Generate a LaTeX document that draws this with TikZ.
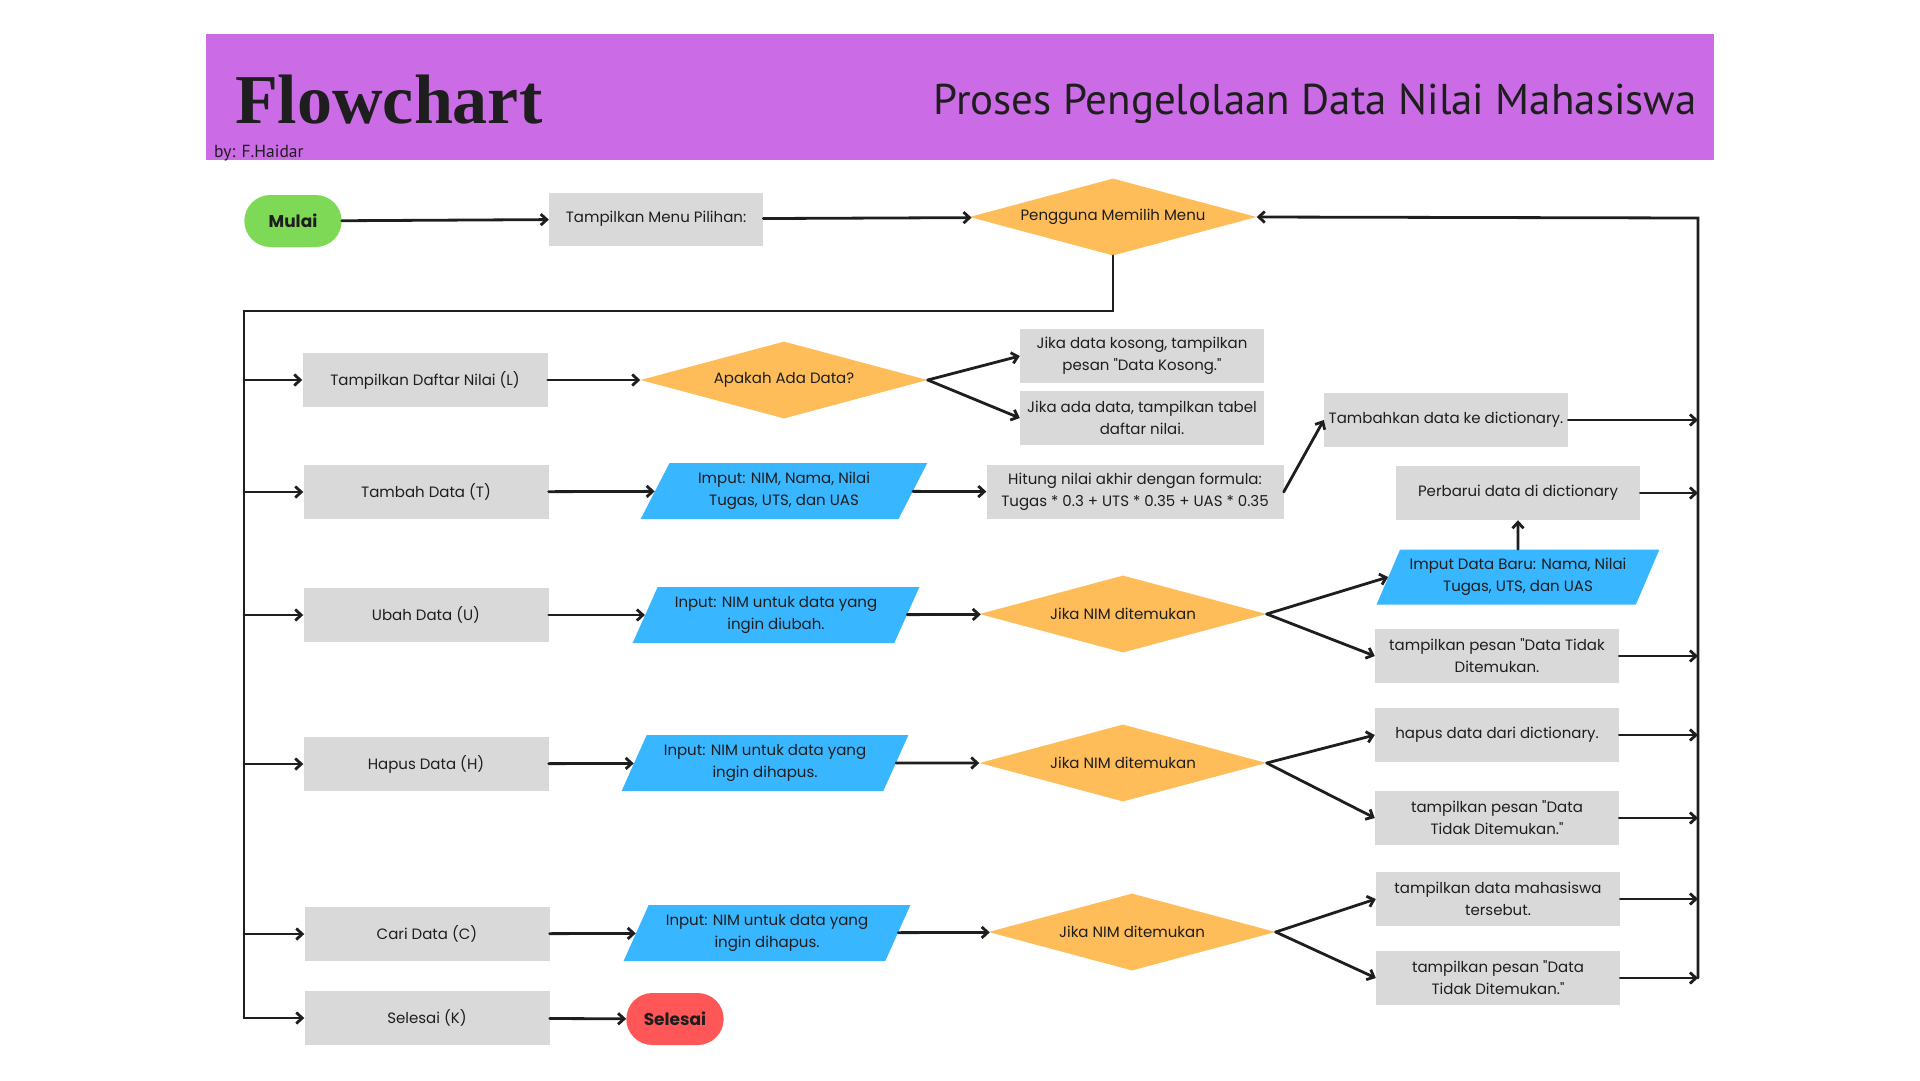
\documentclass[tikz,border=0pt]{standalone}
\usepackage{fontspec}
\newfontfamily\bodyfont{Poppins}
\newfontfamily\titlefont{Liberation Serif}
\newfontfamily\headfont{PT Sans}
\usetikzlibrary{shapes.geometric,shapes.misc,arrows.meta}
\definecolor{headpurple}{HTML}{CB6CE6}
\definecolor{boxgray}{HTML}{D9D9D9}
\definecolor{askorange}{HTML}{FFBD59}
\definecolor{inblue}{HTML}{38B6FF}
\definecolor{startgreen}{HTML}{7ED957}
\definecolor{endred}{HTML}{FF5757}
\definecolor{inkblack}{HTML}{1E1E1E}
\begin{document}
\begin{tikzpicture}[x=1pt,y=-1pt,
  every node/.style={font=\bodyfont\fontsize{15}{22}\selectfont, text=inkblack, align=center},
  proc/.style={rectangle, fill=boxgray, minimum width=245pt, minimum height=54pt, inner sep=2pt},
  decision/.style={diamond, fill=askorange, aspect=3.7, minimum width=287pt, minimum height=77pt, inner sep=0pt},
  io/.style={trapezium, trapezium left angle=60, trapezium right angle=120, trapezium stretches=true,
    fill=inblue, minimum width=287pt, minimum height=56pt, inner sep=0pt},
  term/.style={rounded rectangle, minimum width=104pt, minimum height=52pt, font=\bodyfont\fontsize{17}{20}\selectfont\bfseries},
  arr/.style={-{Straight Barb[length=6pt,width=11pt]}, line width=2.8pt, line cap=round, inkblack}]
\useasboundingbox (0,0) rectangle (1920,1080);

% header
\fill[headpurple] (206,34) rectangle (1714,160);
\node[anchor=base west, inner sep=0pt, font=\titlefont\bfseries\fontsize{70}{70}\selectfont] (judul) at (235,123) {Flowchart};
\node[anchor=east, inner sep=0pt, font=\headfont\fontsize{43}{43}\selectfont] (subjudul) at (1697,104) {Proses Pengelolaan Data Nilai Mahasiswa};
\node[anchor=base west, inner sep=0pt, font=\headfont\fontsize{17.5}{17.5}\selectfont] (penulis) at (214,157) {by: F.Haidar};

% top row
\node[term, fill=startgreen] (mulai) at (293,221) {Mulai};
\node[proc, minimum width=214pt, minimum height=53pt] (menu) at (656,219) {Tampilkan Menu Pilihan:};
\node[decision] (pilih) at (1113,217) {Pengguna Memilih Menu};

% lihat daftar
\node[proc] (daftar) at (425,380) {Tampilkan Daftar Nilai (L)};
\node[decision] (ada) at (784,380) {Apakah Ada Data?};
\node[proc, minimum width=244pt] (kosong) at (1142,356) {Jika data kosong, tampilkan\\pesan "Data Kosong."};
\node[proc, minimum width=244pt] (tabel) at (1142,418) {Jika ada data, tampilkan tabel\\daftar nilai.};

% tambah
\node[proc] (tambah) at (426,492) {Tambah Data (T)};
\node[io] (inTambah) at (784,491) {Imput: NIM, Nama, Nilai\\Tugas, UTS, dan UAS};
\node[proc, minimum width=297pt] (hitung) at (1135,492) {Hitung nilai akhir dengan formula:\\Tugas * 0.3 + UTS * 0.35 + UAS * 0.35};
\node[proc, minimum width=244pt] (tambahkan) at (1446,420) {Tambahkan data ke dictionary.};
\node[proc, minimum width=244pt] (perbarui) at (1518,493) {Perbarui data di dictionary};

% ubah
\node[proc] (ubah) at (426,615) {Ubah Data (U)};
\node[io] (inUbah) at (776,615) {Input: NIM untuk data yang\\ingin diubah.};
\node[decision] (nimU) at (1123,614) {Jika NIM ditemukan};
\node[io, minimum width=284pt, minimum height=55pt] (inBaru) at (1518,577) {Imput Data Baru: Nama, Nilai\\Tugas, UTS, dan UAS};
\node[proc, minimum width=244pt] (gagalU) at (1497,656) {tampilkan pesan "Data Tidak\\Ditemukan.};

% hapus
\node[proc] (hapus) at (426,764) {Hapus Data (H)};
\node[io] (inHapus) at (765,763) {Input: NIM untuk data yang\\ingin dihapus.};
\node[decision] (nimH) at (1123,763) {Jika NIM ditemukan};
\node[proc, minimum width=244pt] (hapusDict) at (1497,735) {hapus data dari dictionary.};
\node[proc, minimum width=244pt] (gagalH) at (1497,818) {tampilkan pesan "Data\\Tidak Ditemukan."};

% cari
\node[proc] (cari) at (427,934) {Cari Data (C)};
\node[io] (inCari) at (767,933) {Input: NIM untuk data yang\\ingin dihapus.};
\node[decision] (nimC) at (1132,932) {Jika NIM ditemukan};
\node[proc, minimum width=244pt] (tampilC) at (1498,899) {tampilkan data mahasiswa\\tersebut.};
\node[proc, minimum width=244pt] (gagalC) at (1498,978) {tampilkan pesan "Data\\Tidak Ditemukan."};

% selesai
\node[proc] (selesaiK) at (427,1018) {Selesai (K)};
\node[term, fill=endred] (selesai) at (675,1019) {Selesai};

% bus lines
\coordinate (busL) at (244,311);
\coordinate (busR) at (1698,218);
\coordinate (busRend) at (1698,978);

\draw[arr] (mulai) -- (menu);
\draw[arr] (menu) -- (pilih);
\draw[arr] (pilih.south) |- (busL) |- (selesaiK.west);
\foreach \n in {daftar,tambah,ubah,hapus,cari}
  \draw[arr] (busL |- \n.west) -- (\n.west);
\draw[arr] (busRend) -- (busR) -- (pilih.east);
\foreach \n in {tambahkan,perbarui,gagalU,hapusDict,gagalH,tampilC,gagalC}
  \draw[arr] (\n.east) -- (busR |- \n.east);

% rows
\draw[arr] (daftar) -- (ada);
\draw[arr] (ada.east) -- (kosong.west);
\draw[arr] (ada.east) -- (tabel.west);
\draw[arr] (tambah) -- (inTambah);
\draw[arr] (inTambah) -- (hitung);
\draw[arr] (hitung.east) -- (tambahkan.west);
\draw[arr] (ubah) -- (inUbah);
\draw[arr] (inUbah) -- (nimU);
\draw[arr] (nimU.east) -- (inBaru.left side);
\draw[arr] (inBaru) -- (perbarui);
\draw[arr] (nimU.east) -- (gagalU.west);
\draw[arr] (hapus) -- (inHapus);
\draw[arr] (inHapus) -- (nimH);
\draw[arr] (nimH.east) -- (hapusDict.west);
\draw[arr] (nimH.east) -- (gagalH.west);
\draw[arr] (cari) -- (inCari);
\draw[arr] (inCari) -- (nimC);
\draw[arr] (nimC.east) -- (tampilC.west);
\draw[arr] (nimC.east) -- (gagalC.west);
\draw[arr] (selesaiK) -- (selesai);
\end{tikzpicture}
\end{document}
